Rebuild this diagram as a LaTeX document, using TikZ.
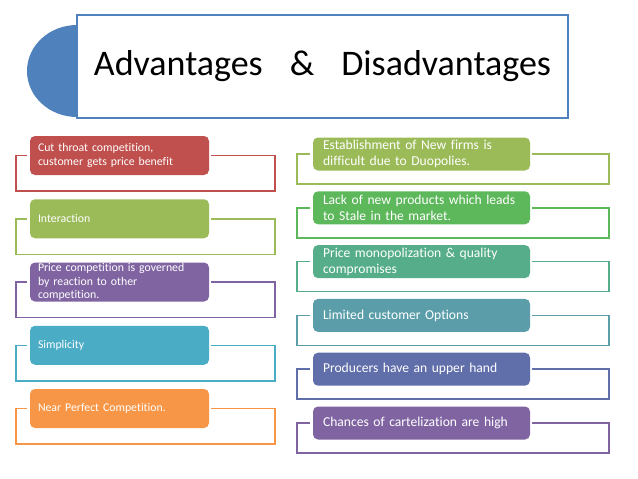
\documentclass[tikz,border=0pt]{standalone}
\usepackage{fontspec}
\setmainfont{Carlito}[Ligatures={NoCommon,NoContextual}]
\usetikzlibrary{positioning,calc,shapes.geometric}
\definecolor{tblue}{HTML}{4F81BD}
\definecolor{aRed}{HTML}{C0504D}
\definecolor{aGreen}{HTML}{9BBB59}
\definecolor{aPurple}{HTML}{8064A2}
\definecolor{aBlue}{HTML}{4BACC6}
\definecolor{aOrange}{HTML}{F79646}
\definecolor{dOlive}{HTML}{9BBB59}
\definecolor{dGreen}{HTML}{5DB75B}
\definecolor{dSea}{HTML}{55AE89}
\definecolor{dTeal}{HTML}{5B9EAA}
\definecolor{dIndigo}{HTML}{606EAA}
\definecolor{dPurple}{HTML}{8064A2}

\begin{document}
\begin{tikzpicture}[x=1pt,y=-1pt,
adv/.style={rounded corners=5pt,text=white,align=left,minimum height=39pt,text width=163pt,inner xsep=8pt,inner ysep=0pt,font=\fontsize{11.8}{13.2}\selectfont},
dis/.style={rounded corners=5pt,text=white,align=left,minimum height=33pt,text width=197pt,inner xsep=10pt,inner ysep=0pt,font=\fontsize{13.6}{16}\selectfont},
lbrack/.style={line width=1.5pt,to path={($(\tikztostart.west)+(-3,0)$) -- ++(-11,0) -- ++(0,35.5) -| ($(\tikztostart.east)+(66,0)$) -- ($(\tikztostart.east)+(2,0)$)}},
rbrack/.style={line width=1.5pt,to path={($(\tikztostart.west)+(-3,0)$) -- ++(-13,0) -- ++(0,30) -| ($(\tikztostart.east)+(79,0)$) -- ($(\tikztostart.east)+(2,0)$)}}]
\useasboundingbox (0,0) rectangle (638,479);

% heading
\node[ellipse,fill=tblue,minimum width=100pt,minimum height=92pt,inner sep=0pt] (disc) at (77,71) {};
\node[draw=tblue,line width=1.2pt,fill=white,minimum width=491pt,minimum height=103pt,font=\fontsize{36}{40}\selectfont] (title) at (322.5,66.5)
{Advantages\hspace{27pt}\&\hspace{27pt}Disadvantages};

% advantages
\node[adv,fill=aRed] (a1) at (119.5,155.5) {Cut throat competition,\\customer gets price benefit};
\node[adv,fill=aGreen] (a2) at (119.5,218.75) {Interaction};
\node[adv,fill=aPurple] (a3) at (119.5,282) {Price competition is governed\\by reaction to other\\competition.};
\node[adv,fill=aBlue] (a4) at (119.5,345.25) {Simplicity};
\node[adv,fill=aOrange] (a5) at (119.5,408.5) {Near Perfect Competition.};

% disadvantages
\node[dis,fill=dOlive] (d1) at (421.5,154) {Establishment of New firms is\\difficult due to Duopolies.};
\node[dis,fill=dGreen] (d2) at (421.5,207.8) {Lack of new products which leads\\to Stale in the market.};
\node[dis,fill=dSea] (d3) at (421.5,261.6) {Price monopolization \& quality\\compromises};
\node[dis,fill=dTeal] (d4) at (421.5,315.4) {Limited customer Options};
\node[dis,fill=dIndigo] (d5) at (421.5,369.2) {Producers have an upper hand};
\node[dis,fill=dPurple] (d6) at (421.5,423) {Chances of cartelization are high};

\path
(a1) edge[lbrack,aRed] (a1)
(a2) edge[lbrack,aGreen] (a2)
(a3) edge[lbrack,aPurple] (a3)
(a4) edge[lbrack,aBlue] (a4)
(a5) edge[lbrack,aOrange] (a5)
;
\path
(d1) edge[rbrack,dOlive] (d1)
(d2) edge[rbrack,dGreen] (d2)
(d3) edge[rbrack,dSea] (d3)
(d4) edge[rbrack,dTeal] (d4)
(d5) edge[rbrack,dIndigo] (d5)
(d6) edge[rbrack,dPurple] (d6)
;
\end{tikzpicture}
\end{document}
